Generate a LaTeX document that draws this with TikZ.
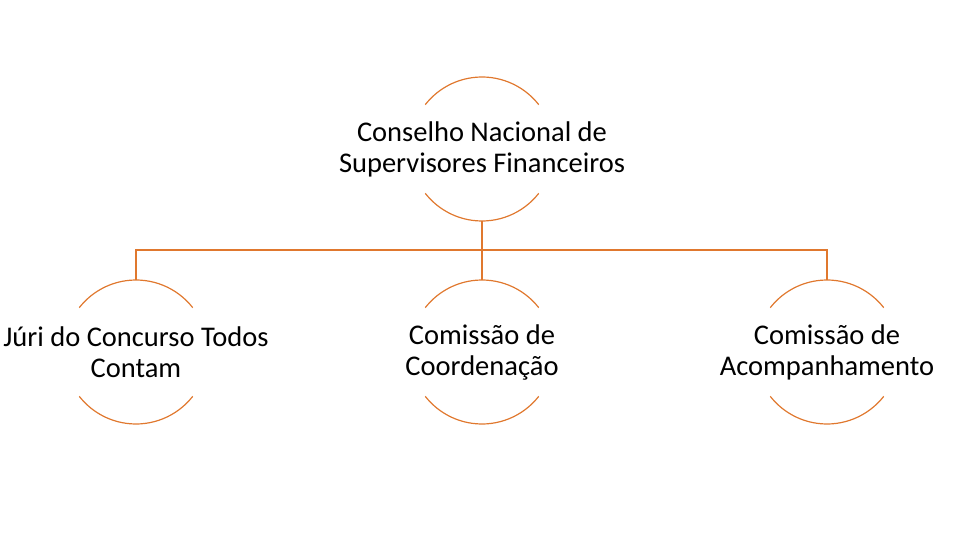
\documentclass[tikz,border=0pt]{standalone}
\usepackage{fontspec}
\setmainfont{Carlito}
\definecolor{orgline}{HTML}{E0782E}
\tikzset{
  ring/.style={orgline, line width=1.2pt},
  link/.style={orgline, line width=1.2pt},
  label/.style={align=center, font=\fontsize{28.5}{31}\selectfont}
}
\begin{document}
\begin{tikzpicture}[x=1pt, y=-1pt]
  \useasboundingbox (0,0) rectangle (980,540);
  % circles, shown only as top and bottom arcs
  \foreach \cx/\cy/\nm in {482/149/top, 136/352/left, 482/352/mid, 827/352/right}{
    \coordinate (\nm) at (\cx,\cy);
    \draw[ring] (\cx,\cy) ++(-38:72) arc[start angle=-38, end angle=-142, radius=72];
    \draw[ring] (\cx,\cy) ++(38:72) arc[start angle=38, end angle=142, radius=72];
    \coordinate (\nm-n) at (\cx,\cy-72);
    \coordinate (\nm-s) at (\cx,\cy+72);
  }
  \node[label] (t) at (top) {Conselho Nacional de\\Supervisores Financeiros};
  \node[label] (l) at (left) {Júri do Concurso Todos\\Contam};
  \node[label] (m) at (mid) {Comissão de\\Coordenação};
  \node[label] (r) at (right) {Comissão de\\Acompanhamento};
  % connectors
  \coordinate (bus) at (482,250);
  \draw[link] (top-s) -- (bus);
  \draw[link] (left-n) |- (bus) -| (right-n);
  \draw[link] (bus) -- (mid-n);
\end{tikzpicture}
\end{document}
